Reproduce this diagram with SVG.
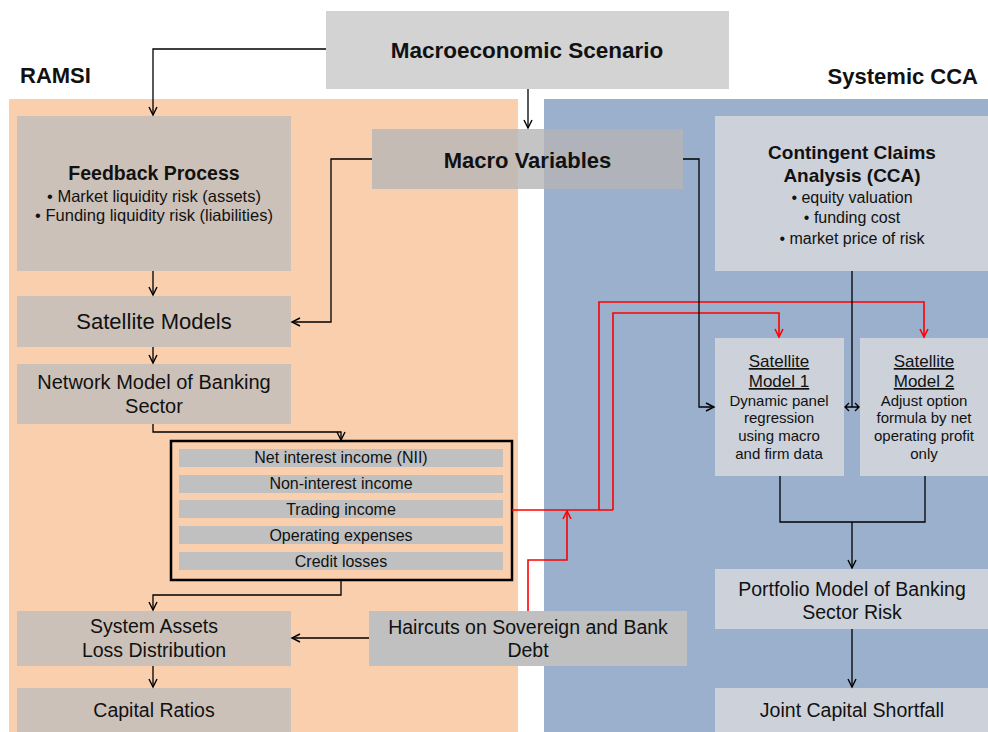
<svg xmlns="http://www.w3.org/2000/svg" width="988" height="732" viewBox="0 0 988 732">
<defs>
<style>
text{font-family:"Liberation Sans",Arial,sans-serif;fill:#111;text-anchor:middle}
.b{font-weight:bold}
.ob{fill:#ccc1b8}
.bb{fill:#cdd2da}
.row{fill:#c0c0c0}
.c{fill:none;stroke:#000;stroke-width:1.3}
.r{fill:none;stroke:#ff0000;stroke-width:1.6}
.u{text-decoration:underline}
</style>
<marker id="ah" markerWidth="12" markerHeight="12" refX="9" refY="5" orient="auto" markerUnits="userSpaceOnUse"><path d="M1,1 L9,5 L1,9" fill="none" stroke="#000" stroke-width="1.4"/></marker>
<marker id="ahr" markerWidth="12" markerHeight="12" refX="9" refY="5" orient="auto" markerUnits="userSpaceOnUse"><path d="M1,1 L9,5 L1,9" fill="none" stroke="#ff0000" stroke-width="1.6"/></marker>
</defs>
<rect x="0" y="0" width="988" height="732" fill="#fff"/>
<g id="ramsi-panel">
<rect x="9" y="99" width="509" height="633" fill="#f9cfae"/>
<text class="b" x="20" y="83" font-size="22" style="text-anchor:start">RAMSI</text>
</g>
<g id="cca-panel">
<rect x="544" y="99" width="444" height="633" fill="#9bb0cc"/>
<text class="b" x="978" y="84" font-size="22" style="text-anchor:end">Systemic CCA</text>
</g>
<g id="macro-scenario">
<rect x="326" y="11" width="403" height="78" fill="#d3d3d3"/>
<text class="b" x="527" y="58" font-size="22.5">Macroeconomic Scenario</text>
</g>
<g id="macro-variables">
<rect x="372" y="129" width="311" height="60" fill="#b5b5b5" fill-opacity="0.8"/>
<text class="b" x="527.5" y="168" font-size="22">Macro Variables</text>
</g>
<g id="feedback">
<rect class="ob" x="17" y="116" width="274" height="155"/>
<text class="b" x="154" y="180" font-size="19.5">Feedback Process</text>
<text x="154" y="202" font-size="16.5">• Market liquidity risk (assets)</text>
<text x="154" y="221" font-size="16.5">• Funding liquidity risk (liabilities)</text>
</g>
<g id="satellite-models">
<rect class="ob" x="17" y="296" width="274" height="51"/>
<text x="154" y="329" font-size="22">Satellite Models</text>
</g>
<g id="network-model">
<rect class="ob" x="17" y="364" width="274" height="60"/>
<text x="154" y="389" font-size="20">Network Model of Banking</text>
<text x="154" y="413" font-size="20">Sector</text>
</g>
<g id="income">
<rect x="171" y="441" width="341" height="139" fill="none" stroke="#000" stroke-width="2.5"/>
<rect class="row" x="179" y="449" width="324" height="18"/>
<rect class="row" x="179" y="475" width="324" height="18"/>
<rect class="row" x="179" y="500" width="324" height="18"/>
<rect class="row" x="179" y="526" width="324" height="18"/>
<rect class="row" x="179" y="552" width="324" height="18"/>
<text x="341" y="463" font-size="16">Net interest income (NII)</text>
<text x="341" y="489" font-size="16">Non-interest income</text>
<text x="341" y="515" font-size="16">Trading income</text>
<text x="341" y="541" font-size="16">Operating expenses</text>
<text x="341" y="567" font-size="16">Credit losses</text>
</g>
<g id="system-assets">
<rect class="ob" x="17" y="611" width="274" height="55"/>
<text x="154" y="633" font-size="19.5">System Assets</text>
<text x="154" y="657" font-size="19.5">Loss Distribution</text>
</g>
<g id="capital-ratios">
<rect class="ob" x="17" y="688" width="274" height="44"/>
<text x="154" y="717" font-size="19.5">Capital Ratios</text>
</g>
<g id="haircuts">
<rect x="369" y="611" width="318" height="55" fill="#c0c0c0"/>
<text x="528" y="634" font-size="19.5">Haircuts on Sovereign and Bank</text>
<text x="528" y="657" font-size="19.5">Debt</text>
</g>
<g id="cca">
<rect class="bb" x="715" y="116" width="273" height="155"/>
<text class="b" x="852" y="159" font-size="19">Contingent Claims</text>
<text class="b" x="852" y="182" font-size="19">Analysis (CCA)</text>
<text x="852" y="203" font-size="16">• equity valuation</text>
<text x="852" y="223" font-size="16">• funding cost</text>
<text x="852" y="244" font-size="16">• market price of risk</text>
</g>
<g id="sat-model-1">
<rect class="bb" x="715" y="338" width="129" height="138"/>
<text class="u" x="779" y="367" font-size="17">Satellite</text>
<text class="u" x="779" y="387" font-size="17">Model 1</text>
<text x="779" y="406" font-size="15">Dynamic panel</text>
<text x="779" y="423" font-size="15">regression</text>
<text x="779" y="441" font-size="15">using macro</text>
<text x="779" y="459" font-size="15">and firm data</text>
</g>
<g id="sat-model-2">
<rect class="bb" x="860" y="338" width="128" height="138"/>
<text class="u" x="924" y="367" font-size="17">Satellite</text>
<text class="u" x="924" y="387" font-size="17">Model 2</text>
<text x="924" y="406" font-size="15">Adjust option</text>
<text x="924" y="423" font-size="15">formula by net</text>
<text x="924" y="441" font-size="15">operating profit</text>
<text x="924" y="459" font-size="15">only</text>
</g>
<g id="portfolio-model">
<rect class="bb" x="715" y="569" width="273" height="60"/>
<text x="852" y="596" font-size="19.5">Portfolio Model of Banking</text>
<text x="852" y="619" font-size="19.5">Sector Risk</text>
</g>
<g id="joint-capital">
<rect class="bb" x="715" y="688" width="273" height="44"/>
<text x="852" y="717" font-size="19.5">Joint Capital Shortfall</text>
</g>
<g id="connectors">
<path class="r" d="M512,510 H613 M599,510 V302 H924 V337" marker-end="url(#ahr)"/>
<path class="r" d="M613,510 V313 H779 V337" marker-end="url(#ahr)"/>
<path class="r" d="M528,611 V560 H567 V511" marker-end="url(#ahr)"/>
<path class="c" d="M326,49 H153 V115" marker-end="url(#ah)"/>
<path class="c" d="M528,89 V128" marker-end="url(#ah)"/>
<path class="c" d="M372,159 H331 V322 H292" marker-end="url(#ah)"/>
<path class="c" d="M683,159 H699 V407 H714" marker-end="url(#ah)"/>
<path class="c" d="M153,271 V295" marker-end="url(#ah)"/>
<path class="c" d="M153,347 V363" marker-end="url(#ah)"/>
<path class="c" d="M153,424 V432 H341 V440" marker-end="url(#ah)"/>
<path class="c" d="M341,580 V595 H153 V610" marker-end="url(#ah)"/>
<path class="c" d="M369,638 H292" marker-end="url(#ah)"/>
<path class="c" d="M153,666 V687" marker-end="url(#ah)"/>
<path class="c" d="M852,271 V407"/>
<path class="c" d="M845,407 H859 M849,403 L845,407 L849,411 M855,403 L859,407 L855,411" stroke-width="1.6"/>
<path class="c" d="M780,476 V522 H925 V476 M852,522 V568" marker-end="url(#ah)"/>
<path class="c" d="M852,629 V687" marker-end="url(#ah)"/>
</g>
</svg>
